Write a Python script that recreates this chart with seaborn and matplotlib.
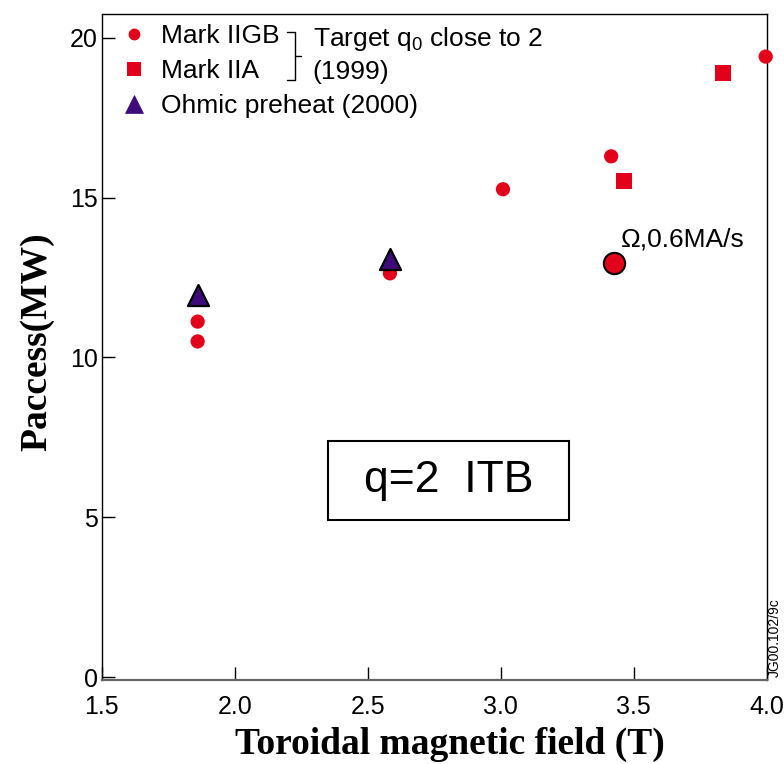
import matplotlib
matplotlib.use("Agg")
import matplotlib.pyplot as plt
from matplotlib.lines import Line2D
from matplotlib.patches import Rectangle
import seaborn as sns
import pandas as pd

# Data
gb_x = [1.86, 1.86, 2.583, 3.008, 3.415, 3.996]
gb_y = [11.12, 10.50, 12.63, 15.26, 16.29, 19.41]
iia_x = [3.835, 3.462]
iia_y = [18.91, 15.51]
ohm_x = [1.86, 2.583]
ohm_y = [11.95, 13.09]
spec_x = [3.425]
spec_y = [12.94]

x_ticks = [1.5, 2.0, 2.5, 3.0, 3.5, 4.0]
x_ticklabels = ["1.5", "2.0", "2.5", "3.0", "3.5", "4.0"]
y_ticks = [0, 5, 10, 15, 20]
y_ticklabels = ["0", "5", "10", "15", "20"]

RED = "#e2001a"
PURPLE = "#3d0a7a"

sns.set_theme(style="white")
plt.rcParams["font.family"] = ["Liberation Sans", "DejaVu Sans"]
plt.rcParams["text.color"] = "black"
plt.rcParams["axes.labelcolor"] = "black"
plt.rcParams["mathtext.fontset"] = "custom"
plt.rcParams["mathtext.rm"] = "Liberation Sans"
plt.rcParams["mathtext.it"] = "Liberation Sans:italic"

fig = plt.figure(figsize=(7.84, 7.64), dpi=100)
ax = fig.add_axes([0.130, 0.110, 0.848, 0.872])

df_gb = pd.DataFrame({"B": gb_x, "P": gb_y})
df_iia = pd.DataFrame({"B": iia_x, "P": iia_y})
df_ohm = pd.DataFrame({"B": ohm_x, "P": ohm_y})
df_spec = pd.DataFrame({"B": spec_x, "P": spec_y})

sns.scatterplot(data=df_gb, x="B", y="P", ax=ax, marker="o", s=105,
                color=RED, edgecolor="none", linewidth=0, zorder=3, clip_on=False)
sns.scatterplot(data=df_iia, x="B", y="P", ax=ax, marker="s", s=135,
                color=RED, edgecolor="none", linewidth=0, zorder=3, clip_on=False)
sns.scatterplot(data=df_ohm, x="B", y="P", ax=ax, marker="^", s=230,
                color=PURPLE, edgecolor="black", linewidth=1.6, zorder=4, clip_on=False)
sns.scatterplot(data=df_spec, x="B", y="P", ax=ax, marker="o", s=235,
                color=RED, edgecolor="black", linewidth=1.5, zorder=4, clip_on=False)

ax.set_xlim(1.5, 4.0)
ax.set_ylim(-0.09, 20.75)
ax.set_xticks(x_ticks)
ax.set_xticklabels(x_ticklabels)
ax.set_yticks(y_ticks)
ax.set_yticklabels(y_ticklabels)
ax.tick_params(axis="both", direction="in", length=9.5, width=1.0, color="black",
               labelsize=18, labelcolor="black", bottom=True, left=True)
ax.tick_params(axis="x", pad=11)
ax.tick_params(axis="y", pad=3)
for sp in ax.spines.values():
    sp.set_color("black")
    sp.set_linewidth(1.0)
ax.spines["bottom"].set_color("#666666")
ax.spines["bottom"].set_linewidth(1.6)

ax.set_xlabel("Toroidal magnetic field (T)", fontsize=27, fontweight="bold",
              family="Liberation Serif", color="black")
ax.set_ylabel("Paccess(MW)", fontsize=27, fontweight="bold",
              family="Liberation Serif", color="black")
ax.xaxis.set_label_coords(0.523, -0.07)
ax.yaxis.set_label_coords(-0.072, 0.508)

# Legend
handles = [
    Line2D([], [], linestyle="none", marker="o", markersize=8.5, color=RED, markeredgewidth=0),
    Line2D([], [], linestyle="none", marker="s", markersize=10, color=RED, markeredgewidth=0),
    Line2D([], [], linestyle="none", marker="^", markersize=13, markerfacecolor=PURPLE,
           markeredgecolor=PURPLE, markeredgewidth=0.5),
]
labels = ["Mark IIGB", "Mark IIA", "Ohmic preheat (2000)"]
ax.legend(handles, labels, loc="upper left", bbox_to_anchor=(0.0, 1.012), frameon=False,
          fontsize=19, handlelength=1.0, handletextpad=0.55, labelspacing=0.42,
          borderaxespad=0.3, borderpad=0.4)

# bracket
ax.plot([0.278, 0.29, 0.29, 0.278], [0.973, 0.973, 0.9, 0.9], transform=ax.transAxes,
        color="black", lw=1.0, clip_on=False)
ax.plot([0.29, 0.299], [0.9365, 0.9365], transform=ax.transAxes, color="black", lw=1.0)
ax.text(0.317, 0.962, r"Target q$_\mathregular{0}$ close to 2", transform=ax.transAxes,
        fontsize=19, va="center", ha="left")
ax.text(0.317, 0.912, "(1999)", transform=ax.transAxes, fontsize=19, va="center", ha="left")

ax.annotate("Ω,0.6MA/s", xy=(spec_x[0], spec_y[0]), xytext=(5, 17),
            textcoords="offset points", fontsize=19, ha="left", va="center")

ax.add_patch(Rectangle((0.340, 0.240), 0.362, 0.119, transform=ax.transAxes,
                       facecolor="white", edgecolor="black", lw=1.5, zorder=5))
ax.text(0.521, 0.299, "q=2  ITB", transform=ax.transAxes, fontsize=32, ha="center",
        va="center", zorder=6)

fig.text(0.9885, 0.165, "JG00.102/9c", rotation=90, fontsize=10, ha="center",
         va="center", color="black")

fig.savefig("out.png", dpi=100)
